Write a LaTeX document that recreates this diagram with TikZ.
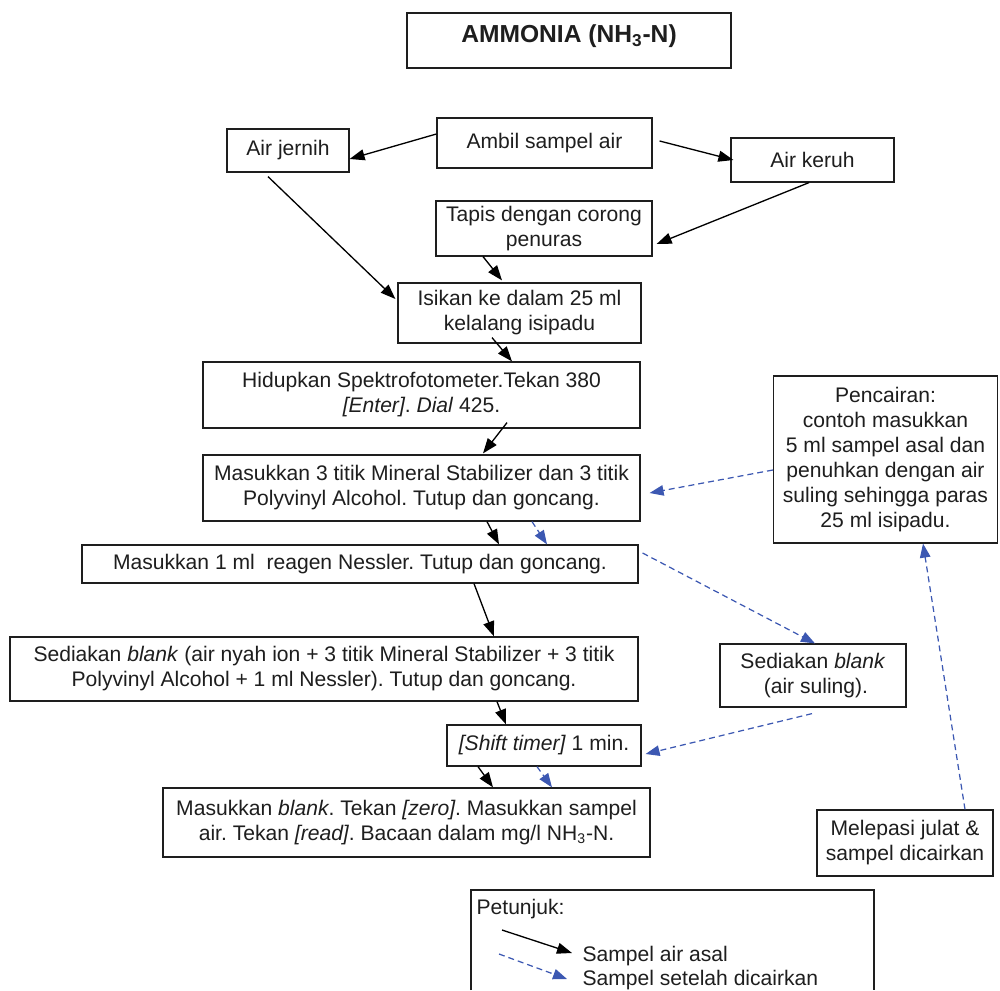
\documentclass[tikz,border=0pt]{standalone}
\usepackage{fontspec}
\setmainfont{Liberation Sans}
\usetikzlibrary{arrows.meta, calc}
\definecolor{flowblue}{RGB}{60,88,178}
\definecolor{ink}{RGB}{30,30,30}
\frenchspacing

\begin{document}
\begin{tikzpicture}[x=0.02cm, y=-0.02cm, line width=0.7pt,
  font=\fontsize{12}{14.2}\selectfont,
  box/.style={draw=ink, fill=white, text=ink, inner sep=0pt, align=center},
  flow/.style={draw=black, line width=0.75pt, -{Triangle[length=0.3cm, width=0.22cm]}},
  thinflow/.style={draw=flowblue, line width=0.7pt, dash pattern=on 0.12cm off 0.08cm,
    -{Triangle[length=0.28cm, width=0.21cm]}}]

  \useasboundingbox (0,0) rectangle (1000,990);

  % tajuk
  \node[box, minimum width=6.48cm, text height=0.6cm, text depth=0.5cm,
    font=\bfseries\fontsize{14}{17}\selectfont] (title) at (569,40.5)
    {AMMONIA (NH\textsubscript{3}-N)};

  % langkah-langkah
  \node[box, minimum width=4.3cm,  minimum height=1cm]    (ambil)   at (544.5,143)   {Ambil sampel air};
  \node[box, minimum width=2.44cm, minimum height=0.86cm] (jernih)  at (288,150.5)   {Air jernih};
  \node[box, minimum width=3.26cm, minimum height=0.88cm] (keruh)   at (812.5,160)   {Air keruh};
  \node[box, minimum width=4.32cm, minimum height=1.1cm]  (tapis)   at (544,228.5)   {Tapis dengan corong\\penuras};
  \node[box, minimum width=4.86cm, minimum height=1.2cm]  (isikan)  at (519.5,313)   {Isikan ke dalam 25 ml\\kelalang isipadu};
  \node[box, minimum width=8.74cm, minimum height=1.32cm] (hidup)   at (421.5,395)
    {Hidupkan Spektrofotometer.Tekan 380\\\textit{[Enter]}. \textit{Dial} 425.};
  \node[box, minimum width=8.74cm, minimum height=1.32cm] (mineral) at (421.5,488)
    {Masukkan 3 titik Mineral Stabilizer dan 3 titik\\Polyvinyl Alcohol. Tutup dan goncang.};
  \node[box, minimum width=11.12cm, minimum height=0.76cm] (nessler) at (360,564)
    {Masukkan 1 ml \ reagen Nessler. Tutup dan goncang.};
  \node[box, minimum width=12.56cm, minimum height=1.28cm] (blankA) at (324,669)
    {Sediakan \textit{blank} (air nyah ion + 3 titik Mineral Stabilizer + 3 titik\\Polyvinyl Alcohol + 1 ml Nessler). Tutup dan goncang.};
  \node[box, minimum width=3.72cm, minimum height=1.26cm] (blankB)  at (813,675.5)
    {Sediakan \textit{blank}\\\ (air suling).};
  \node[box, minimum width=3.88cm, minimum height=0.82cm] (timer)   at (544,745.5)
    {\textit{[Shift timer]} 1 min.};
  \node[box, minimum width=9.74cm, minimum height=1.38cm] (baca)    at (406.5,822.5)
    {Masukkan \textit{blank}. Tekan \textit{[zero]}. Masukkan sampel\\air. Tekan \textit{[read]}. Bacaan dalam mg/l NH\textsubscript{3}-N.};
  \node[box, minimum width=4.48cm, minimum height=3.34cm] (cair)    at (885.5,459.5)
    {Pencairan:\\contoh masukkan\\5 ml sampel asal dan\\penuhkan dengan air\\suling sehingga paras\\25 ml isipadu.};
  \node[box, minimum width=3.52cm, minimum height=1.32cm] (lepas)   at (905,843)
    {Melepasi julat \&\\sampel dicairkan};

  % aliran sampel air asal
  \draw[flow] ($(ambil.west)+(0,-9)$) -- ($(jernih.east)+(0,8.5)$);
  \draw[flow] ($(ambil.east)+(7,-2)$) -- ($(keruh.west)+(3,0)$);
  \draw[flow] ($(keruh.south)+(-3.5,0)$) -- ($(tapis.east)+(4,15.5)$);
  \draw[flow] ($(jernih.south)+(-20,4)$) -- ($(isikan.west)+(-2,-14)$);
  \draw[flow] ($(tapis.south)+(-61,0)$) -- ($(isikan.north)+(-17.5,-2)$);
  \draw[flow] ($(isikan.south)+(-27.5,-6)$) -- ($(hidup.north)+(90.5,0)$);
  \draw[flow] ($(hidup.south)+(85.5,-6)$) -- ($(mineral.north)+(61.5,-1)$);
  \draw[flow] ($(mineral.south)+(65.5,0)$) -- ($(nessler.north)+(139,0)$);
  \draw[flow] ($(nessler.south)+(114,0)$) -- ($(blankA.north)+(170,0)$);
  \draw[flow] ($(blankA.south)+(173,0)$) -- ($(timer.north)+(-38,0)$);
  \draw[flow] ($(timer.south)+(-66,0)$) -- ($(baca.north)+(86.5,0)$);

  % aliran sampel dicairkan
  \draw[thinflow] ($(lepas.north)+(60,0)$) -- ($(cair.south)+(37.5,0)$);
  \draw[thinflow] ($(cair.west)+(0,10.5)$) -- ($(mineral.east)+(9,5)$);
  \draw[thinflow] ($(mineral.south)+(110.5,0)$) -- ($(nessler.north)+(187,0)$);
  \draw[thinflow] ($(nessler.east)+(4,-11)$) -- ($(blankB.north)+(2,0)$);
  \draw[thinflow] ($(blankB.south)+(-1,6)$) -- ($(timer.east)+(4,8.5)$);
  \draw[thinflow] ($(timer.south)+(-7,0)$) -- ($(baca.north)+(145.5,0)$);

  % petunjuk
  \draw[draw=ink] (471,990) -- (471,890) -- (874,890) -- (874,990);
  \node[anchor=west, text=ink, inner sep=0pt] (petunjuk) at (476,909) {Petunjuk:};
  \node[anchor=west, text=ink, inner sep=0pt] (asal)     at (582,956) {Sampel air asal};
  \node[anchor=west, text=ink, inner sep=0pt] (setelah)  at (582,980) {Sampel setelah dicairkan};
  \coordinate (k1) at (502,930);
  \coordinate (k2) at (499,954);
  \draw[flow]     (k1) -- ($(asal.west)+(-10,-3)$);
  \draw[thinflow] (k2) -- ($(setelah.west)+(-15,-1)$);
\end{tikzpicture}
\end{document}
